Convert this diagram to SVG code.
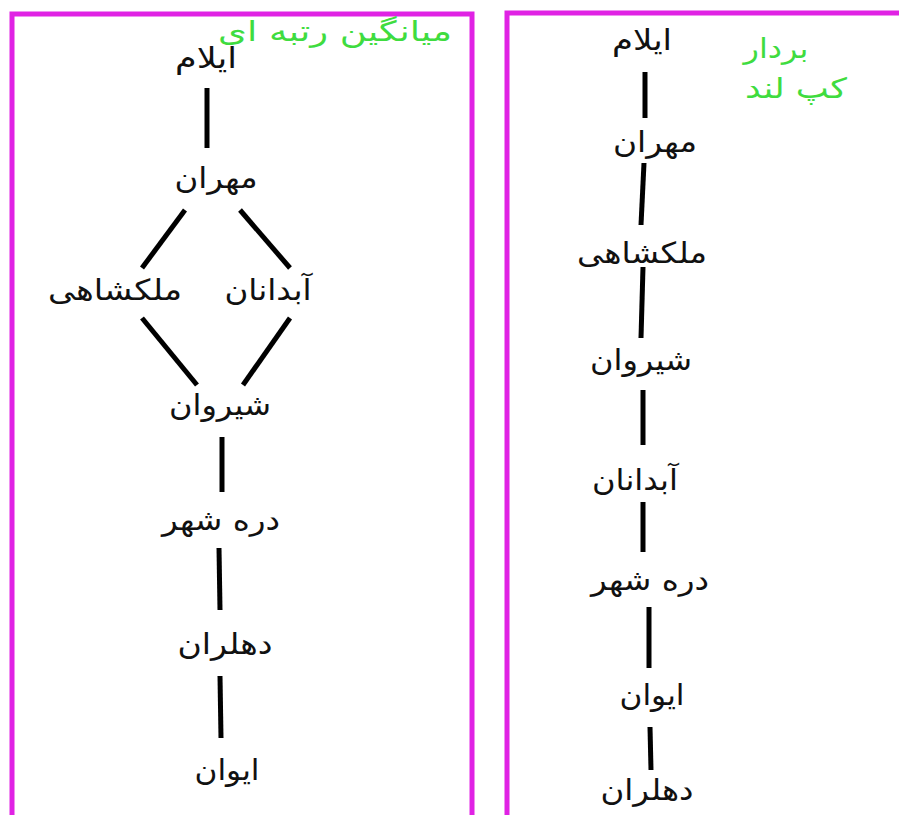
<svg xmlns="http://www.w3.org/2000/svg" width="899" height="815" viewBox="0 0 899 815">
  <style>
    .frame { fill: none; stroke: #e022e4; stroke-width: 5; }
    .lbl { font-family: "DejaVu Sans", "Noto Sans", sans-serif; font-size: 29px; fill: #111; text-anchor: middle; }
    .title { font-family: "DejaVu Sans", "Noto Sans", sans-serif; font-size: 28px; fill: #3fdc3f; text-anchor: middle; }
    .edge { stroke: #000; stroke-width: 5; stroke-linecap: butt; fill: none; }
  </style>
  <rect width="899" height="815" fill="#fff"/>

  <!-- panel frames -->
  <rect class="frame" x="12" y="14" width="460" height="830"/>
  <rect class="frame" x="507" y="13" width="420" height="830"/>

  <!-- panel captions -->
  <text class="title" x="335" y="41" textLength="234" lengthAdjust="spacingAndGlyphs">میانگین رتبه ای</text>
  <text class="title" x="776" y="58" textLength="65" lengthAdjust="spacingAndGlyphs">بردار</text>
  <text class="title" x="796" y="98" textLength="102" lengthAdjust="spacingAndGlyphs">کپ لند</text>

  <!-- connectors -->
  <g id="edges">
    <line class="edge" x1="207" y1="88" x2="207" y2="148"/>
    <line class="edge" x1="185" y1="210" x2="142" y2="268"/>
    <line class="edge" x1="240" y1="210" x2="290" y2="268"/>
    <line class="edge" x1="142" y1="318" x2="197" y2="385"/>
    <line class="edge" x1="290" y1="318" x2="243" y2="385"/>
    <line class="edge" x1="222" y1="437" x2="222" y2="492"/>
    <line class="edge" x1="219" y1="548" x2="220" y2="610"/>
    <line class="edge" x1="220" y1="676" x2="221" y2="738"/>

    <line class="edge" x1="645" y1="72" x2="645" y2="118"/>
    <line class="edge" x1="644" y1="163" x2="641" y2="225"/>
    <line class="edge" x1="643" y1="267" x2="641" y2="338"/>
    <line class="edge" x1="643" y1="390" x2="643" y2="445"/>
    <line class="edge" x1="643" y1="502" x2="643" y2="552"/>
    <line class="edge" x1="649" y1="607" x2="649" y2="668"/>
    <line class="edge" x1="650" y1="727" x2="651" y2="770"/>
  </g>

  <!-- left panel nodes -->
  <g id="l-ilam"><text class="lbl" x="206" y="68" textLength="62" lengthAdjust="spacingAndGlyphs">ایلام</text></g>
  <g id="l-mehran"><text class="lbl" x="216" y="188" textLength="83" lengthAdjust="spacingAndGlyphs">مهران</text></g>
  <g id="l-malekshahi"><text class="lbl" x="115" y="300" textLength="134" lengthAdjust="spacingAndGlyphs">ملکشاهی</text></g>
  <g id="l-abdanan"><text class="lbl" x="268" y="300" textLength="87" lengthAdjust="spacingAndGlyphs">آبدانان</text></g>
  <g id="l-shirvan"><text class="lbl" x="220" y="415" textLength="102" lengthAdjust="spacingAndGlyphs">شیروان</text></g>
  <g id="l-darrehshahr"><text class="lbl" x="221" y="530" textLength="118" lengthAdjust="spacingAndGlyphs">دره شهر</text></g>
  <g id="l-dehloran"><text class="lbl" x="225" y="654" textLength="95" lengthAdjust="spacingAndGlyphs">دهلران</text></g>
  <g id="l-eyvan"><text class="lbl" x="227" y="780" textLength="65" lengthAdjust="spacingAndGlyphs">ایوان</text></g>

  <!-- right panel nodes -->
  <g id="r-ilam"><text class="lbl" x="642" y="50" textLength="60" lengthAdjust="spacingAndGlyphs">ایلام</text></g>
  <g id="r-mehran"><text class="lbl" x="655" y="152" textLength="84" lengthAdjust="spacingAndGlyphs">مهران</text></g>
  <g id="r-malekshahi"><text class="lbl" x="642" y="263" textLength="130" lengthAdjust="spacingAndGlyphs">ملکشاهی</text></g>
  <g id="r-shirvan"><text class="lbl" x="641" y="370" textLength="102" lengthAdjust="spacingAndGlyphs">شیروان</text></g>
  <g id="r-abdanan"><text class="lbl" x="635" y="490" textLength="86" lengthAdjust="spacingAndGlyphs">آبدانان</text></g>
  <g id="r-darrehshahr"><text class="lbl" x="650" y="590" textLength="118" lengthAdjust="spacingAndGlyphs">دره شهر</text></g>
  <g id="r-eyvan"><text class="lbl" x="652" y="705" textLength="65" lengthAdjust="spacingAndGlyphs">ایوان</text></g>
  <g id="r-dehloran"><text class="lbl" x="647" y="800" textLength="93" lengthAdjust="spacingAndGlyphs">دهلران</text></g>
</svg>
